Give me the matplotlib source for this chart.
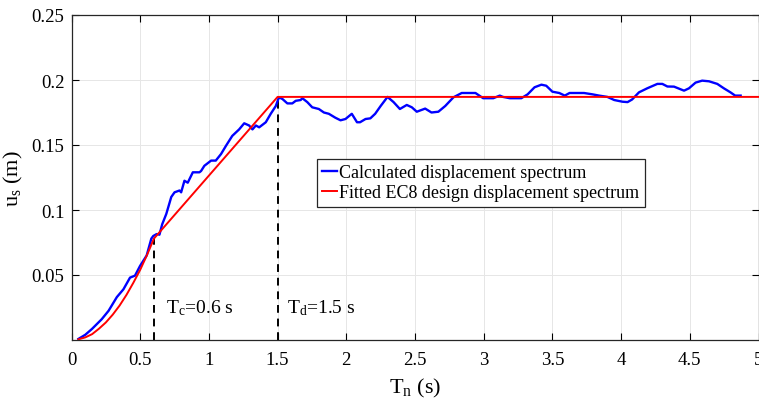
import matplotlib
matplotlib.use("Agg")
import matplotlib.pyplot as plt

plt.rcParams['font.family'] = ['Liberation Serif', 'DejaVu Serif']
plt.rcParams['mathtext.fontset'] = 'custom'
plt.rcParams['mathtext.rm'] = 'Liberation Serif'
plt.rcParams['mathtext.it'] = 'Liberation Serif:italic'

# Calculated displacement spectrum
calc_T = [0.05, 0.10, 0.149, 0.22, 0.27, 0.33, 0.378, 0.426, 0.462, 0.499, 0.547,
          0.581, 0.595, 0.62, 0.64, 0.66, 0.69, 0.726, 0.75, 0.786, 0.798, 0.822,
          0.846, 0.883, 0.931, 0.943, 0.967, 1.016, 1.05, 1.088, 1.125, 1.17, 1.22,
          1.257, 1.293, 1.317, 1.342, 1.366, 1.414, 1.45, 1.487, 1.51, 1.535, 1.571,
          1.607, 1.632, 1.668, 1.68, 1.716, 1.752, 1.80, 1.837, 1.873, 1.92, 1.958,
          1.994, 2.04, 2.078, 2.10, 2.14, 2.175, 2.21, 2.25, 2.30, 2.344, 2.39, 2.44,
          2.477, 2.513, 2.574, 2.62, 2.67, 2.72, 2.78, 2.84, 2.94, 2.996, 3.07, 3.117,
          3.14, 3.19, 3.274, 3.32, 3.37, 3.42, 3.455, 3.50, 3.55, 3.59, 3.625, 3.66,
          3.73, 3.79, 3.84, 3.90, 3.95, 4.01, 4.047, 4.08, 4.13, 4.19, 4.264, 4.30,
          4.337, 4.385, 4.458, 4.494, 4.542, 4.59, 4.64, 4.70, 4.748, 4.796, 4.83, 4.87]
calc_u = [0.0008, 0.004, 0.0085, 0.016, 0.0225, 0.033, 0.039, 0.048, 0.0495, 0.057, 0.065,
          0.078, 0.080, 0.0815, 0.081, 0.089, 0.097, 0.110, 0.1136, 0.115, 0.1136, 0.1225,
          0.121, 0.129, 0.129, 0.130, 0.134, 0.138, 0.138, 0.143, 0.1495, 0.157, 0.162,
          0.1667, 0.165, 0.162, 0.165, 0.1636, 0.1675, 0.174, 0.180, 0.1867, 0.1854, 0.182,
          0.182, 0.184, 0.1846, 0.186, 0.183, 0.179, 0.1777, 0.175, 0.174, 0.171, 0.169,
          0.170, 0.174, 0.1675, 0.1675, 0.170, 0.1705, 0.174, 0.180, 0.187, 0.183, 0.1777, 0.1808,
          0.179, 0.1756, 0.178, 0.175, 0.1756, 0.180, 0.1867, 0.190, 0.190, 0.186, 0.186, 0.188,
          0.187, 0.186, 0.186, 0.189, 0.1944, 0.1964, 0.1956, 0.191, 0.190, 0.188, 0.190, 0.190,
          0.190, 0.189, 0.188, 0.187, 0.1846, 0.1833, 0.183, 0.185, 0.1905, 0.1936, 0.197, 0.197,
          0.195, 0.1949, 0.1918, 0.1936, 0.198, 0.1995, 0.199, 0.197, 0.1936, 0.1905, 0.188, 0.188]

# Fitted EC8 design displacement spectrum
fit_T = [0.05, 0.10, 0.15, 0.20, 0.25, 0.30, 0.35, 0.40, 0.45, 0.50, 0.55, 0.60, 1.50, 5.00]
fit_u = [0.0005, 0.002, 0.0045, 0.0087, 0.0135, 0.0195, 0.0265, 0.0347, 0.044, 0.054,
         0.0655, 0.078, 0.187, 0.187]

Tc, Td = 0.6, 1.5
Tc_u, Td_u = 0.078, 0.187

xticks = [0, 0.5, 1, 1.5, 2, 2.5, 3, 3.5, 4, 4.5, 5]
xticklabels = ['0', '0.5', '1', '1.5', '2', '2.5', '3', '3.5', '4', '4.5', '5']
yticks = [0.05, 0.1, 0.15, 0.2, 0.25]
yticklabels = ['0.05', '0.1', '0.15', '0.2', '0.25']

fig = plt.figure(figsize=(7.59, 4.06), dpi=100)
ax = fig.add_axes([71.5/759, 65/406, 687/759, 325/406])

ax.plot(calc_T, calc_u, color='#0000ff', lw=1.7, label='Calculated displacement spectrum', zorder=3)
ax.plot(fit_T, fit_u, color='#ff0000', lw=1.4, label='Fitted EC8 design displacement spectrum', zorder=4)
ax.plot([Tc, Tc], [0, Tc_u], color='black', lw=1.4, ls=(0, (4, 3)), zorder=2)
ax.plot([Td, Td], [0, Td_u], color='black', lw=1.4, ls=(0, (4, 3)), zorder=2)

ax.text(0.69, 0.021, r'T$_\mathrm{c}$=0.6 s', fontsize=14, va='baseline', ha='left')
ax.text(1.571, 0.021, r'T$_\mathrm{d}$=1.5 s', fontsize=14, va='baseline', ha='left')

ax.set_xlim(0, 5)
ax.set_ylim(0, 0.25)
ax.set_xticks(xticks)
ax.set_xticklabels(xticklabels)
ax.set_yticks(yticks)
ax.set_yticklabels(yticklabels)
ax.tick_params(direction='in', top=True, right=True, length=5, width=0.8, labelsize=13.5)
ax.tick_params(axis='x', pad=8)
ax.tick_params(axis='y', pad=5)
ax.grid(True, color='#e6e6e6', lw=0.7)
ax.set_axisbelow(True)
for s in ax.spines.values():
    s.set_linewidth(0.9)
    s.set_color('#262626')

ax.set_xlabel(r'T$_\mathrm{n}$ (s)', fontsize=16)
ax.set_ylabel(r'u$_\mathrm{s}$ (m)', fontsize=16)
ax.xaxis.set_label_coords(0.5, -0.11)
ax.yaxis.set_label_coords(-0.068, 0.5)

leg = ax.legend(loc='upper left', bbox_to_anchor=(0.357, 0.557), fontsize=13,
                frameon=True, fancybox=False, edgecolor='#262626', framealpha=1,
                handlelength=0.8, handletextpad=0.15, borderpad=0.3, labelspacing=0.15,
                borderaxespad=0)
leg.get_frame().set_linewidth(0.9)

fig.savefig('out.png', dpi=100)
